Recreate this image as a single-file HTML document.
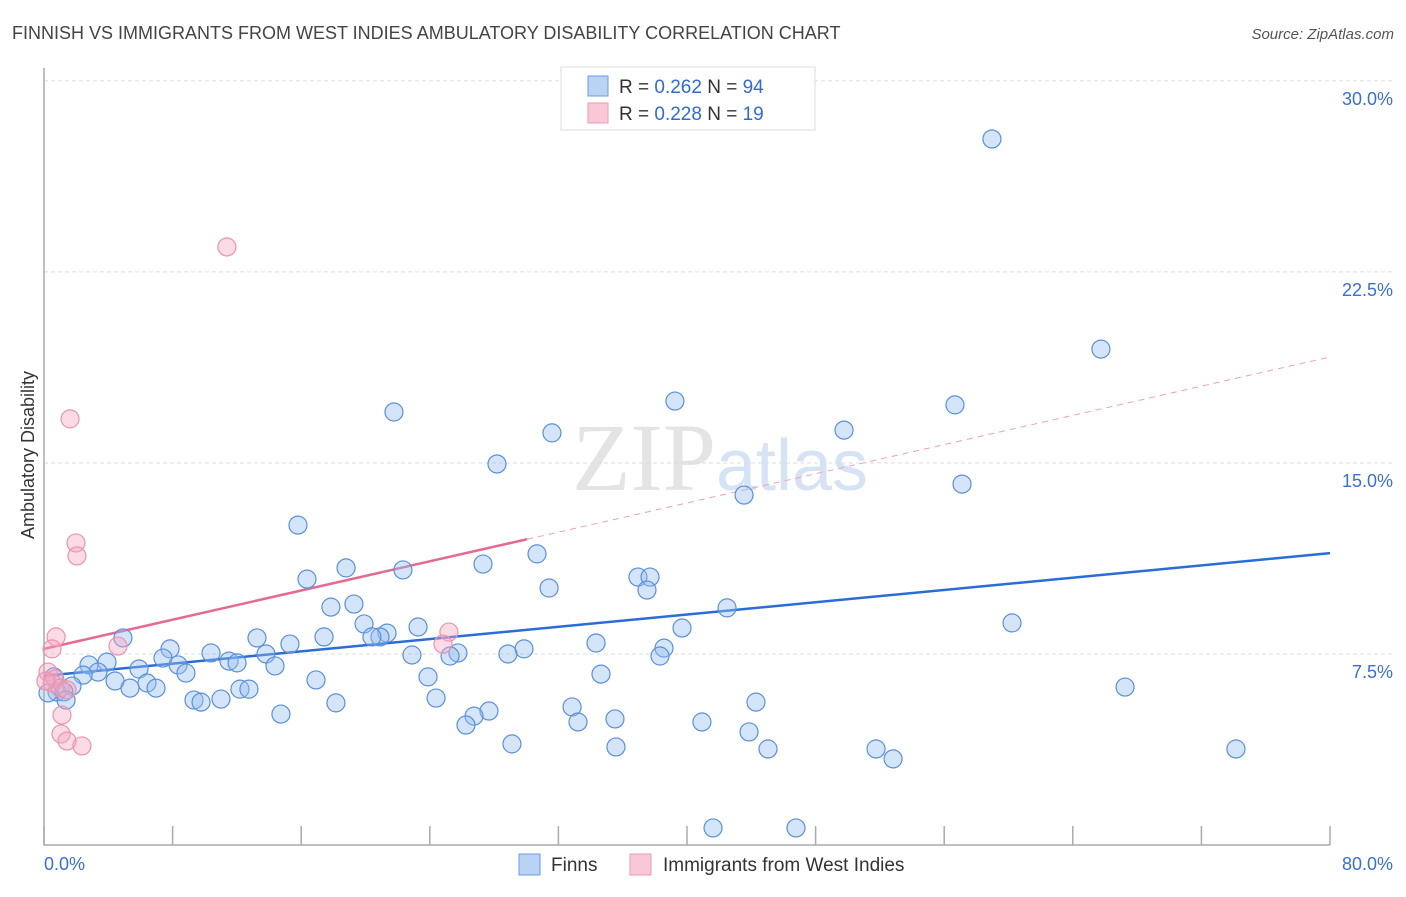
<!DOCTYPE html>
<html><head><meta charset="utf-8"><style>
body{margin:0;background:#fff;font-family:"Liberation Sans",sans-serif}
svg text{font-family:"Liberation Sans",sans-serif}
</style></head><body>
<svg id="chart" width="1406" height="892">
<text x="12" y="39" font-size="18" fill="#444">FINNISH VS IMMIGRANTS FROM WEST INDIES AMBULATORY DISABILITY CORRELATION CHART</text>
<text x="1394" y="39" font-size="15" fill="#555" text-anchor="end" font-style="italic">Source: ZipAtlas.com</text>
<text x="720" y="490" font-size="96" fill="#e4e4e4" text-anchor="middle" font-family="Liberation Serif"><tspan font-family="Liberation Serif">ZIP</tspan><tspan fill="#d6e3f5" font-size="72" font-family="Liberation Sans">atlas</tspan></text>
<g id="grid"></g><g id="axes"></g><g id="trend"></g><g id="points"></g>
<text transform="translate(34,455) rotate(-90)" font-size="18" fill="#333" text-anchor="middle">Ambulatory Disability</text>
<g>
<rect x="561" y="67" width="254" height="63" fill="#fff" stroke="#ddd"/>
<rect x="588" y="76" width="20" height="20" fill="#b9d3f5" stroke="#6a9be0"/>
<rect x="588" y="103" width="20" height="20" fill="#f9c8d7" stroke="#ee9ab5"/>
<text x="619" y="93" font-size="19" fill="#333">R = <tspan fill="#2f6bd0">0.262</tspan>   N = <tspan fill="#2f6bd0">94</tspan></text>
<text x="619" y="120" font-size="19" fill="#333">R = <tspan fill="#2f6bd0">0.228</tspan>   N =  <tspan fill="#2f6bd0">19</tspan></text>
</g>
<g>
<rect x="519" y="854" width="21" height="21" fill="#b9d3f5" stroke="#6a9be0"/>
<text x="551" y="871" font-size="19" fill="#333">Finns</text>
<rect x="630" y="854" width="21" height="21" fill="#f9c8d7" stroke="#ee9ab5"/>
<text x="663" y="871" font-size="19" fill="#333">Immigrants from West Indies</text>
</g>
</svg>
<script>
const finnsX=[58.97,65.75,39.25,21.77,56.67,49.77,31.6,28.18,57.11,43.55,15.8,30.67,27.31,22.33,18.79,16.36,36.95,37.7,31.42,37.51,19.28,17.85,42.49,60.22,19.91,4.91,23.27,39.69,21.34,20.9,20.4,17.42,13.25,15.3,34.34,7.84,29.86,38.57,10.39,13.81,25.75,22.89,28.86,25.26,38.32,7.4,11.51,12.01,3.92,2.8,8.34,14.37,5.91,3.36,2.43,8.83,34.65,0.62,23.89,16.92,4.42,6.41,1.74,5.35,6.97,12.19,12.75,67.25,0.81,0.25,1.24,1.37,9.33,9.77,11.01,18.16,24.39,44.29,32.85,27.68,26.75,14.74,35.52,33.22,40.93,26.25,43.86,29.11,35.58,45.04,51.76,74.15,52.82,41.62,46.78];
const finnsY=[27.72,19.47,17.43,17.0,17.28,16.29,16.18,14.96,14.17,13.74,12.56,11.43,11.03,10.8,10.88,10.44,10.52,10.52,10.09,10.01,9.46,9.34,9.31,8.72,8.68,8.13,8.56,8.52,8.32,8.17,8.17,8.17,8.13,7.89,7.93,7.7,7.7,7.73,7.54,7.5,7.54,7.46,7.5,7.42,7.42,7.34,7.22,7.15,7.18,7.07,7.07,7.03,6.91,6.79,6.67,6.75,6.71,6.6,6.6,6.48,6.44,6.36,6.24,6.16,6.16,6.12,6.12,6.2,6.01,5.97,6.01,5.69,5.69,5.61,5.73,5.58,5.77,5.61,5.42,5.26,5.06,5.14,4.95,4.83,4.83,4.71,4.44,3.97,3.85,3.77,3.77,3.77,3.38,0.67,0.67];
const wiX=[11.38,1.62,1.99,2.05,0.75,0.5,4.6,25.19,24.82,0.25,0.68,0.5,1.0,1.43,1.12,1.06,1.43,2.36,0.12];
const wiY=[23.48,16.73,11.86,11.35,8.17,7.7,7.81,8.36,7.89,6.79,6.52,6.36,6.16,6.09,5.1,4.36,4.08,3.89,6.44];
const finnsTrend=[6.64,11.46];
const wiTrend=[7.7,19.16];
const wiSolidEnd=30.05;
const yTicks=[7.5,15,22.5,30];
const yTickLabels=["7.5%","15.0%","22.5%","30.0%"];
const xTicks=[0,10,20,30,40,50,60,70,80];
const xLabels=["0.0%","80.0%"];
const NS="http://www.w3.org/2000/svg";
const sx=v=>44+v*16.075, sy=v=>845-v*25.47;
function mk(p,t,a){const e=document.createElementNS(NS,t);for(const k in a)e.setAttribute(k,a[k]);document.getElementById(p).appendChild(e);return e;}
yTicks.forEach((v,i)=>{
 const l=mk('grid','line',{x1:44,x2:1394,y1:sy(v),y2:sy(v),stroke:'#ddd','stroke-dasharray':'4,3'});
 
 
 const t=mk('grid','text',{x:1393,y:sy(v)+24,'font-size':18,fill:'#3a6fd0','text-anchor':'end'});
 t.textContent=yTickLabels[i];
 
 
});
const ax=mk('axes','path',{d:'M44,68V845H1330',stroke:'#aaa',fill:'none','stroke-width':1.5});


for(let i=0;i<=10;i++){const x=sx(i*8);const tk=mk('axes','line',{x1:x,x2:x,y1:826,y2:845,stroke:'#aaa','stroke-width':1.5});
 
 }
const xl0=mk('axes','text',{x:44,y:870,'font-size':18,fill:'#3a6fd0'});xl0.textContent=xLabels[0];


const xl1=mk('axes','text',{x:1393,y:870,'font-size':18,fill:'#3a6fd0','text-anchor':'end'});xl1.textContent=xLabels[1];


const lerp=(a,x)=>a[0]+(a[1]-a[0])*x/80;
const bt=mk('trend','line',{x1:sx(0),y1:sy(finnsTrend[0]),x2:sx(80),y2:sy(finnsTrend[1]),stroke:'#2a6dd6','stroke-width':2.5});


const pt=mk('trend','line',{x1:sx(0),y1:sy(wiTrend[0]),x2:sx(wiSolidEnd),y2:sy(lerp(wiTrend,wiSolidEnd)),stroke:'#e56a93','stroke-width':2.5});


const pd=mk('trend','line',{x1:sx(wiSolidEnd),y1:sy(lerp(wiTrend,wiSolidEnd)),x2:sx(80),y2:sy(wiTrend[1]),stroke:'#eda0b9','stroke-width':1,'stroke-dasharray':'6,5'});


finnsX.forEach((x,i)=>{const c=mk('points','circle',{cx:sx(x),cy:sy(finnsY[i]),r:9,fill:'rgba(150,190,240,0.4)',stroke:'#5a8fdc','stroke-width':1.2});
 
 });
wiX.forEach((x,i)=>{const c=mk('points','circle',{cx:sx(x),cy:sy(wiY[i]),r:9,fill:'rgba(245,165,190,0.4)',stroke:'#ea93b0','stroke-width':1.2});
 
 });
</script>
</body></html>
